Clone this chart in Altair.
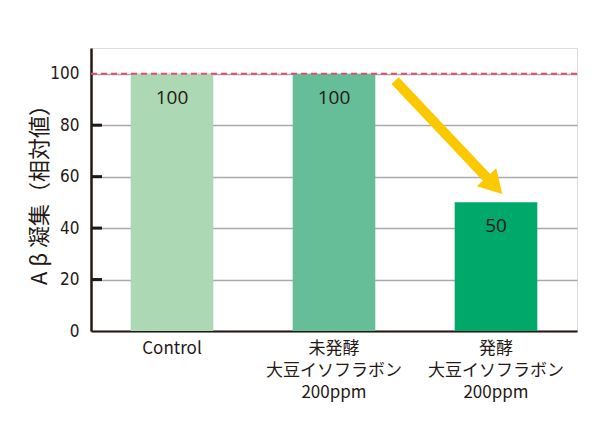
import altair as alt
import pandas as pd

categories = ["Control", "未発酵|大豆イソフラボン|200ppm", "発酵|大豆イソフラボン|200ppm"]
values = [100, 100, 50]
colors = ["#acd8b3", "#66be98", "#00a86a"]
y_ticks = [0, 20, 40, 60, 80, 100]
inner_ticks = [20, 40, 60, 80]
reference_level = 100
arrow_start = (1.877, 97.3)
arrow_head = (2.49, 56.5)
y_title = "A β 凝集（相対値）"

W, H = 486, 283

bars_df = pd.DataFrame({"cat": categories, "val": values, "color": colors})

x_scale = alt.Scale(paddingInner=0.49, paddingOuter=0.245)
x_enc = alt.X(
    "cat:N",
    sort=categories,
    scale=x_scale,
    axis=alt.Axis(
        title=None,
        labelAngle=0,
        labelExpr="split(datum.value, '|')",
        labelFont="Noto Sans CJK JP",
        labelFontSize=17,
        labelColor="#231815",
        labelLineHeight=22,
        labelPadding=9,
        ticks=False,
        domainColor="#231815",
        domainWidth=2,
    ),
)
y_scale = alt.Scale(domain=[0, 110], nice=False)
y_enc = alt.Y(
    "val:Q",
    scale=y_scale,
    axis=alt.Axis(
        title=y_title,
        titleFont="Noto Sans CJK JP",
        titleFontSize=22,
        titleFontWeight="normal",
        titleColor="#231815",
        titleX=-52,
        titleY=141,
        titleAngle=270,
        titleBaseline="middle",
        titleAlign="center",
        values=y_ticks,
        grid=True,
        gridColor="#aaaaaa",
        gridWidth=1.5,
        ticks=False,
        domainColor="#231815",
        domainWidth=2.5,
        labelFont="DejaVu Sans Condensed, Liberation Sans",
        labelFontSize=17,
        labelColor="#231815",
        labelPadding=12,
    ),
)

bars = alt.Chart(bars_df).mark_bar().encode(
    x=x_enc,
    y=y_enc,
    color=alt.Color("color:N", scale=None, legend=None),
)
labels = alt.Chart(bars_df).mark_text(
    baseline="middle", dy=24, fontSize=19, font="Open Sans", color="#231815"
).encode(
    x=alt.X("cat:N", sort=categories, scale=x_scale, axis=None),
    y=alt.Y("val:Q", scale=y_scale),
    text=alt.Text("val:Q"),
)

tick_df = pd.DataFrame({"t": inner_ticks})
ticks = alt.Chart(tick_df).mark_rule(color="#231815", strokeWidth=3).encode(
    y=alt.Y("t:Q", scale=y_scale),
    x=alt.value(0),
    x2=alt.value(11),
)

ref_df = pd.DataFrame({"r": [reference_level]})
ref = alt.Chart(ref_df).mark_rule(color="#e84a6a", strokeWidth=2, strokeDash=[6, 4]).encode(
    y=alt.Y("r:Q", scale=y_scale),
    x=alt.value(0),
    x2=alt.value(W),
)

arrow_df = pd.DataFrame({
    "x": [arrow_start[0]], "y": [arrow_start[1]],
    "x2": [arrow_head[0]], "y2": [arrow_head[1]],
})
xq = alt.Scale(domain=[0, 3], nice=False, zero=False)
arrow_line = alt.Chart(arrow_df).mark_rule(color="#fcc800", strokeWidth=10).encode(
    x=alt.X("x:Q", scale=xq, axis=None),
    x2="x2:Q",
    y=alt.Y("y:Q", scale=y_scale),
    y2="y2:Q",
)
arrow_tip = alt.Chart(arrow_df).mark_point(
    shape="triangle-up", filled=True, color="#fcc800", opacity=1, size=700, angle=137
).encode(
    x=alt.X("x2:Q", scale=xq, axis=None),
    y=alt.Y("y2:Q", scale=y_scale),
)

chart = alt.layer(
    bars, labels, ref, ticks, arrow_line, arrow_tip
).resolve_scale(x="independent").properties(
    width=W,
    height=H,
    autosize=alt.AutoSizeParams(type="none"),
    padding={"left": 83, "top": 40, "right": 8, "bottom": 84},
).configure_view(stroke=None).configure(background="white")

chart.save("out.html", embed_options={"renderer": "svg", "actions": False})
